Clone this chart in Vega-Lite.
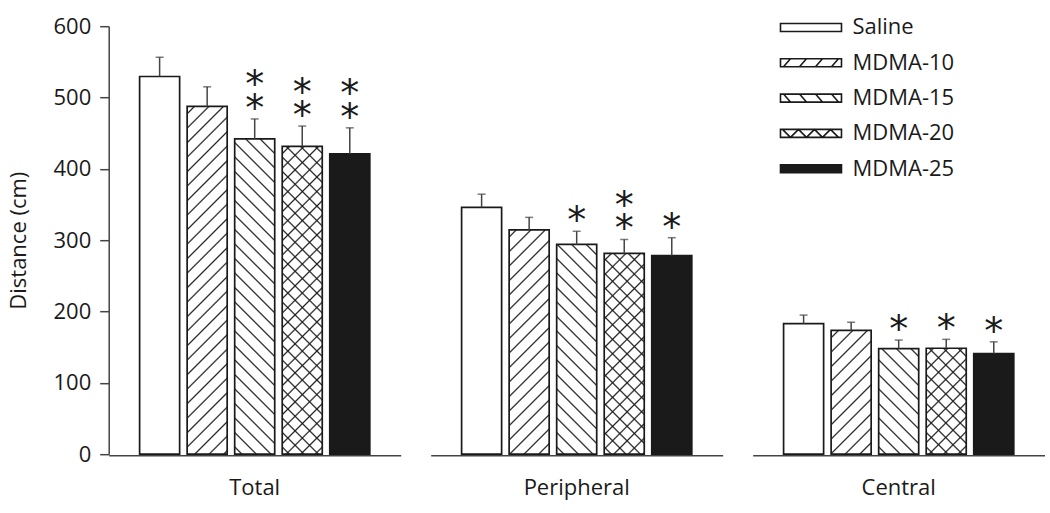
{
  "$schema": "https://vega.github.io/schema/vega-lite/v6.json",
  "padding": {"left": 6.7, "top": 15.2, "right": 0, "bottom": 15},
  "background": "white",
  "params": [
    {"name": "hatch", "value": [
      {"offset": 0.0128, "color": "rgba(26,26,26,0)"}, {"offset": 0.0167, "color": "#1a1a1a"}, {"offset": 0.0206, "color": "rgba(26,26,26,0)"},
      {"offset": 0.0461, "color": "rgba(26,26,26,0)"}, {"offset": 0.0500, "color": "#1a1a1a"}, {"offset": 0.0539, "color": "rgba(26,26,26,0)"},
      {"offset": 0.0794, "color": "rgba(26,26,26,0)"}, {"offset": 0.0833, "color": "#1a1a1a"}, {"offset": 0.0872, "color": "rgba(26,26,26,0)"},
      {"offset": 0.1128, "color": "rgba(26,26,26,0)"}, {"offset": 0.1167, "color": "#1a1a1a"}, {"offset": 0.1206, "color": "rgba(26,26,26,0)"},
      {"offset": 0.1461, "color": "rgba(26,26,26,0)"}, {"offset": 0.1500, "color": "#1a1a1a"}, {"offset": 0.1539, "color": "rgba(26,26,26,0)"},
      {"offset": 0.1794, "color": "rgba(26,26,26,0)"}, {"offset": 0.1833, "color": "#1a1a1a"}, {"offset": 0.1872, "color": "rgba(26,26,26,0)"},
      {"offset": 0.2128, "color": "rgba(26,26,26,0)"}, {"offset": 0.2167, "color": "#1a1a1a"}, {"offset": 0.2206, "color": "rgba(26,26,26,0)"},
      {"offset": 0.2461, "color": "rgba(26,26,26,0)"}, {"offset": 0.2500, "color": "#1a1a1a"}, {"offset": 0.2539, "color": "rgba(26,26,26,0)"},
      {"offset": 0.2794, "color": "rgba(26,26,26,0)"}, {"offset": 0.2833, "color": "#1a1a1a"}, {"offset": 0.2872, "color": "rgba(26,26,26,0)"},
      {"offset": 0.3128, "color": "rgba(26,26,26,0)"}, {"offset": 0.3167, "color": "#1a1a1a"}, {"offset": 0.3206, "color": "rgba(26,26,26,0)"},
      {"offset": 0.3461, "color": "rgba(26,26,26,0)"}, {"offset": 0.3500, "color": "#1a1a1a"}, {"offset": 0.3539, "color": "rgba(26,26,26,0)"},
      {"offset": 0.3794, "color": "rgba(26,26,26,0)"}, {"offset": 0.3833, "color": "#1a1a1a"}, {"offset": 0.3872, "color": "rgba(26,26,26,0)"},
      {"offset": 0.4128, "color": "rgba(26,26,26,0)"}, {"offset": 0.4167, "color": "#1a1a1a"}, {"offset": 0.4206, "color": "rgba(26,26,26,0)"},
      {"offset": 0.4461, "color": "rgba(26,26,26,0)"}, {"offset": 0.4500, "color": "#1a1a1a"}, {"offset": 0.4539, "color": "rgba(26,26,26,0)"},
      {"offset": 0.4794, "color": "rgba(26,26,26,0)"}, {"offset": 0.4833, "color": "#1a1a1a"}, {"offset": 0.4872, "color": "rgba(26,26,26,0)"},
      {"offset": 0.5128, "color": "rgba(26,26,26,0)"}, {"offset": 0.5167, "color": "#1a1a1a"}, {"offset": 0.5206, "color": "rgba(26,26,26,0)"},
      {"offset": 0.5461, "color": "rgba(26,26,26,0)"}, {"offset": 0.5500, "color": "#1a1a1a"}, {"offset": 0.5539, "color": "rgba(26,26,26,0)"},
      {"offset": 0.5794, "color": "rgba(26,26,26,0)"}, {"offset": 0.5833, "color": "#1a1a1a"}, {"offset": 0.5872, "color": "rgba(26,26,26,0)"},
      {"offset": 0.6128, "color": "rgba(26,26,26,0)"}, {"offset": 0.6167, "color": "#1a1a1a"}, {"offset": 0.6206, "color": "rgba(26,26,26,0)"},
      {"offset": 0.6461, "color": "rgba(26,26,26,0)"}, {"offset": 0.6500, "color": "#1a1a1a"}, {"offset": 0.6539, "color": "rgba(26,26,26,0)"},
      {"offset": 0.6794, "color": "rgba(26,26,26,0)"}, {"offset": 0.6833, "color": "#1a1a1a"}, {"offset": 0.6872, "color": "rgba(26,26,26,0)"},
      {"offset": 0.7128, "color": "rgba(26,26,26,0)"}, {"offset": 0.7167, "color": "#1a1a1a"}, {"offset": 0.7206, "color": "rgba(26,26,26,0)"},
      {"offset": 0.7461, "color": "rgba(26,26,26,0)"}, {"offset": 0.7500, "color": "#1a1a1a"}, {"offset": 0.7539, "color": "rgba(26,26,26,0)"},
      {"offset": 0.7794, "color": "rgba(26,26,26,0)"}, {"offset": 0.7833, "color": "#1a1a1a"}, {"offset": 0.7872, "color": "rgba(26,26,26,0)"},
      {"offset": 0.8128, "color": "rgba(26,26,26,0)"}, {"offset": 0.8167, "color": "#1a1a1a"}, {"offset": 0.8206, "color": "rgba(26,26,26,0)"},
      {"offset": 0.8461, "color": "rgba(26,26,26,0)"}, {"offset": 0.8500, "color": "#1a1a1a"}, {"offset": 0.8539, "color": "rgba(26,26,26,0)"},
      {"offset": 0.8794, "color": "rgba(26,26,26,0)"}, {"offset": 0.8833, "color": "#1a1a1a"}, {"offset": 0.8872, "color": "rgba(26,26,26,0)"},
      {"offset": 0.9128, "color": "rgba(26,26,26,0)"}, {"offset": 0.9167, "color": "#1a1a1a"}, {"offset": 0.9206, "color": "rgba(26,26,26,0)"},
      {"offset": 0.9461, "color": "rgba(26,26,26,0)"}, {"offset": 0.9500, "color": "#1a1a1a"}, {"offset": 0.9539, "color": "rgba(26,26,26,0)"},
      {"offset": 0.9794, "color": "rgba(26,26,26,0)"}, {"offset": 0.9833, "color": "#1a1a1a"}, {"offset": 0.9872, "color": "rgba(26,26,26,0)"}
    ]}
  ],
  "data": {"values": [
    {"region": "Total", "group": "Saline", "value": 529.5, "hi": 556.5, "sig": ""},
    {"region": "Total", "group": "MDMA-10", "value": 487.5, "hi": 515, "sig": ""},
    {"region": "Total", "group": "MDMA-15", "value": 442, "hi": 470, "sig": "**"},
    {"region": "Total", "group": "MDMA-20", "value": 431.5, "hi": 460, "sig": "**"},
    {"region": "Total", "group": "MDMA-25", "value": 421, "hi": 457.5, "sig": "**"},
    {"region": "Peripheral", "group": "Saline", "value": 346, "hi": 364.5, "sig": ""},
    {"region": "Peripheral", "group": "MDMA-10", "value": 314.5, "hi": 332, "sig": ""},
    {"region": "Peripheral", "group": "MDMA-15", "value": 294, "hi": 312.5, "sig": "*"},
    {"region": "Peripheral", "group": "MDMA-20", "value": 281.5, "hi": 301, "sig": "**"},
    {"region": "Peripheral", "group": "MDMA-25", "value": 278.5, "hi": 303.5, "sig": "*"},
    {"region": "Central", "group": "Saline", "value": 183, "hi": 195, "sig": ""},
    {"region": "Central", "group": "MDMA-10", "value": 173.5, "hi": 185, "sig": ""},
    {"region": "Central", "group": "MDMA-15", "value": 148, "hi": 160, "sig": "*"},
    {"region": "Central", "group": "MDMA-20", "value": 148.5, "hi": 161, "sig": "*"},
    {"region": "Central", "group": "MDMA-25", "value": 141, "hi": 157.5, "sig": "*"}
  ]},
  "facet": {
    "column": {
      "field": "region", "type": "nominal", "sort": ["Total", "Peripheral", "Central"],
      "header": {"title": null, "labelOrient": "bottom", "labelFontSize": 22, "labelFont": "Open Sans", "labelColor": "#1a1a1a", "labelPadding": 23.3}
    }
  },
  "spacing": 30,
  "spec": {
    "width": 292,
    "height": 428,
    "layer": [
      {
        "mark": {"type": "bar", "stroke": "#1a1a1a", "strokeWidth": 1.7},
        "encoding": {
          "x": {"field": "group", "type": "nominal", "title": null, "sort": ["Saline", "MDMA-10", "MDMA-15", "MDMA-20", "MDMA-25"],
                "scale": {"paddingInner": 0.158, "paddingOuter": 0.65},
                "axis": {"labels": false, "ticks": false, "title": null, "domainColor": "#444", "domainWidth": 1.5}},
          "y": {"field": "value", "type": "quantitative", "title": "Distance (cm)", "scale": {"domain": [0, 600], "nice": false},
                "axis": {"values": [0, 50, 100, 150, 200, 250, 300, 350, 400, 450, 500, 550, 600],
                         "labelExpr": "datum.value % 100 === 0 ? datum.label : ''",
                         "tickSize": 9, "labelPadding": 9, "domainColor": "#444", "tickColor": "#444", "domainWidth": 1.5, "tickWidth": 1.5,
                         "labelFontSize": 22, "labelColor": "#1a1a1a", "titleFontSize": 22, "titleFontWeight": "normal", "titleColor": "#1a1a1a", "titlePadding": 22.5, "grid": false}},
          "fill": {"field": "group", "type": "nominal", "sort": ["Saline", "MDMA-10", "MDMA-15", "MDMA-20", "MDMA-25"],
                   "scale": {"domain": ["Saline", "MDMA-10", "MDMA-15", "MDMA-20", "MDMA-25"], "range": ["white", "white", "white", "white", "#1a1a1a"]},
                   "legend": {
                     "title": null, "orient": "none", "legendX": 664.8, "legendY": -9.7,
                     "symbolType": "M-1,-1H14.25V1H-1Z", "symbolSize": 64, "symbolStrokeColor": "#1a1a1a", "symbolStrokeWidth": 1.6,
                     "labelOffset": 57, "labelFontSize": 22, "labelColor": "#1a1a1a", "rowPadding": 13.3,
                     "encode": {"symbols": {"update": {"shape": {"signal": "datum.value === 'MDMA-10' ? 'M-1,-1H14.25V1H-1Z M-0.25,1L1.5,-1 M3.75,1L5.5,-1 M7.75,1L9.5,-1 M11.75,1L13.5,-1' : datum.value === 'MDMA-15' ? 'M-1,-1H14.25V1H-1Z M-0.25,-1L1.5,1 M3.75,-1L5.5,1 M7.75,-1L9.5,1 M11.75,-1L13.5,1' : datum.value === 'MDMA-20' ? 'M-1,-1H14.25V1H-1Z M-0.5,-1L1.5,1L3.5,-1L5.5,1L7.5,-1L9.5,1L11.5,-1L13.5,1' : 'M-1,-1H14.25V1H-1Z'"}, "opacity": {"value": 1}}}}
                   }}
        }
      },
      {
        "transform": [{"filter": "datum.group === 'MDMA-10' || datum.group === 'MDMA-20'"}],
        "mark": {"type": "bar", "fill": {"expr": "{gradient: 'linear', x1: 0, y1: 0, x2: 17400 / (1600 + pow(datum.value * 0.71333, 2)), y2: 435 * datum.value * 0.71333 / (1600 + pow(datum.value * 0.71333, 2)), stops: hatch}"}},
        "encoding": {
          "x": {"field": "group", "type": "nominal", "title": null, "sort": ["Saline", "MDMA-10", "MDMA-15", "MDMA-20", "MDMA-25"]},
          "y": {"field": "value", "type": "quantitative", "title": "Distance (cm)"}
        }
      },
      {
        "transform": [{"filter": "datum.group === 'MDMA-15' || datum.group === 'MDMA-20'"}],
        "mark": {"type": "bar", "fill": {"expr": "{gradient: 'linear', x1: 0, y1: 1, x2: 17400 / (1600 + pow(datum.value * 0.71333, 2)), y2: 1 - 435 * datum.value * 0.71333 / (1600 + pow(datum.value * 0.71333, 2)), stops: hatch}"}},
        "encoding": {
          "x": {"field": "group", "type": "nominal", "title": null, "sort": ["Saline", "MDMA-10", "MDMA-15", "MDMA-20", "MDMA-25"]},
          "y": {"field": "value", "type": "quantitative", "title": "Distance (cm)"}
        }
      },
      {
        "mark": {"type": "rule", "color": "#444", "strokeWidth": 1.5},
        "encoding": {
          "x": {"field": "group", "type": "nominal", "title": null, "sort": ["Saline", "MDMA-10", "MDMA-15", "MDMA-20", "MDMA-25"]},
          "y": {"field": "value", "type": "quantitative", "title": "Distance (cm)"},
          "y2": {"field": "hi"}
        }
      },
      {
        "mark": {"type": "tick", "orient": "horizontal", "size": 8, "thickness": 1.5, "color": "#444"},
        "encoding": {
          "x": {"field": "group", "type": "nominal", "title": null, "sort": ["Saline", "MDMA-10", "MDMA-15", "MDMA-20", "MDMA-25"]},
          "y": {"field": "hi", "type": "quantitative", "title": "Distance (cm)"}
        }
      },
      {
        "transform": [{"filter": "datum.sig !== ''"}],
        "mark": {"type": "text", "text": "*", "baseline": "bottom", "dy": 10, "fontSize": 38, "font": "DejaVu Sans", "color": "#1a1a1a"},
        "encoding": {
          "x": {"field": "group", "type": "nominal", "title": null, "sort": ["Saline", "MDMA-10", "MDMA-15", "MDMA-20", "MDMA-25"]},
          "y": {"field": "hi", "type": "quantitative", "title": "Distance (cm)"}
        }
      },
      {
        "transform": [{"filter": "datum.sig === '**'"}],
        "mark": {"type": "text", "text": "*", "baseline": "bottom", "dy": -13.5, "fontSize": 38, "font": "DejaVu Sans", "color": "#1a1a1a"},
        "encoding": {
          "x": {"field": "group", "type": "nominal", "title": null, "sort": ["Saline", "MDMA-10", "MDMA-15", "MDMA-20", "MDMA-25"]},
          "y": {"field": "hi", "type": "quantitative", "title": "Distance (cm)"}
        }
      }
    ]
  },
  "config": {
    "font": "Open Sans",
    "view": {"stroke": null},
    "axis": {"grid": false}
  }
}
